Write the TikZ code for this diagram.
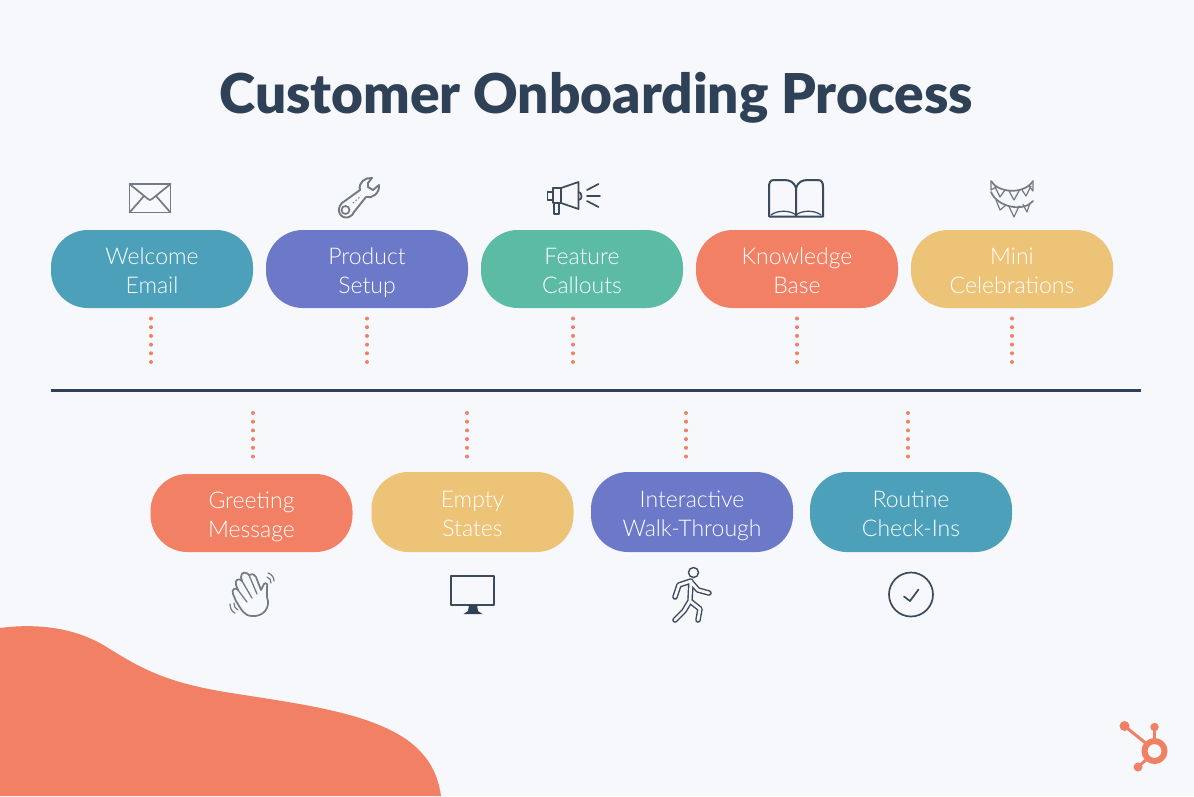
\documentclass[tikz,border=0pt]{standalone}
\usepackage{fontspec}
\setmainfont{Lato}
\newfontfamily\pillfont{Lato Light}
\newfontfamily\titlefont{Lato Black}
\newcommand\pilltext[2]{\rule{0pt}{28.5pt}#1\\\strut#2}
\definecolor{pagebg}{HTML}{F6F8FB}
\definecolor{navy}{HTML}{2F4156}
\definecolor{iconedge}{HTML}{3B4A5C}
\definecolor{icongray}{HTML}{747A83}
\definecolor{coral}{HTML}{F18064}
\definecolor{tealblue}{HTML}{4CA0BA}
\definecolor{violet}{HTML}{6C78C8}
\definecolor{mint}{HTML}{5CBBA5}
\definecolor{honey}{HTML}{ECC377}
\begin{document}
\begin{tikzpicture}[x=1pt, y=-1pt,
    pill/.style={minimum width=202pt, minimum height=78pt, rounded corners=37pt, text=white,
      align=center, font=\pillfont\fontsize{23}{29}\selectfont, inner sep=0pt},
    dots/.style={coral, line width=4pt, line cap=round, dash pattern=on 0pt off 8.7pt},
    icon/.style={iconedge, line width=1.7pt, line join=round, line cap=round},
    grayicon/.style={icongray, line width=1.7pt, line join=round, line cap=round}]
  \useasboundingbox (0,0) rectangle (1194,796);
  \fill[pagebg] (0,0) rectangle (1194,796);
  \fill[coral] (0,628) .. controls (30,624) and (70,625) .. (105,646)
    .. controls (140,668) and (165,682) .. (225,692)
    .. controls (300,704) and (370,712) .. (410,742)
    .. controls (430,758) and (438,775) .. (441,796) -- (0,796) -- cycle;

  \node[font=\titlefont\fontsize{54.9}{60}\selectfont, text=navy] (title) at (596,97.5) {Customer Onboarding Process};

  \node[pill, fill=tealblue] (welcome) at (152,269) {\pilltext{Welcome}{Email}};
  \node[pill, fill=violet] (setup) at (367,269) {\pilltext{Product}{Setup}};
  \node[pill, fill=mint] (callouts) at (582,269) {\pilltext{Feature}{Callouts}};
  \node[pill, fill=coral] (base) at (797,269) {\pilltext{Knowledge}{Base}};
  \node[pill, fill=honey] (mini) at (1012,269) {\pilltext{Mini}{Celebrations}};

  \node[pill, fill=coral] (greeting) at (251.5,513) {\pilltext{Greeting}{Message}};
  \node[pill, fill=honey, minimum height=80pt] (empty) at (472.5,512) {\pilltext{Empty}{States}};
  \node[pill, fill=violet, minimum height=80pt] (walk) at (692,512) {\pilltext{Interactive}{Walk-Through}};
  \node[pill, fill=tealblue, minimum height=80pt] (checkins) at (911,512) {\pilltext{Routine}{Check-Ins}};

  \coordinate (ruleleft) at (51,390);
  \coordinate (ruleright) at (1141,390);
  \draw[navy, line width=3pt] (ruleleft) -- (ruleright);

  \coordinate (welcomedot) at (151,362);
  \coordinate (setupdot) at (367,362);
  \coordinate (calloutsdot) at (573,362);
  \coordinate (basedot) at (797,362);
  \coordinate (minidot) at (1012,362);
  \coordinate (greetingdot) at (253,413);
  \coordinate (emptydot) at (467,413);
  \coordinate (walkdot) at (686,413);
  \coordinate (checkinsdot) at (908,413);
  \draw[dots, shorten >=9pt] (welcomedot) -- (welcome.south -| welcomedot);
  \draw[dots, shorten >=9pt] (setupdot) -- (setup.south -| setupdot);
  \draw[dots, shorten >=9pt] (calloutsdot) -- (callouts.south -| calloutsdot);
  \draw[dots, shorten >=9pt] (basedot) -- (base.south -| basedot);
  \draw[dots, shorten >=9pt] (minidot) -- (mini.south -| minidot);
  \draw[dots, shorten >=16pt] (greetingdot) -- (greeting.north -| greetingdot);
  \draw[dots, shorten >=14pt] (emptydot) -- (empty.north -| emptydot);
  \draw[dots, shorten >=14pt] (walkdot) -- (walk.north -| walkdot);
  \draw[dots, shorten >=14pt] (checkinsdot) -- (checkins.north -| checkinsdot);

  % envelope
  \draw[grayicon] (129.5,184) rectangle (170.5,212.5);
  \draw[grayicon] (129.5,184) -- (148,199) -- (150,200) -- (152,199) -- (170.5,184);
  \draw[grayicon] (129.5,212.5) -- (144,196);
  \draw[grayicon] (170.5,212.5) -- (156,196);

  % wrench
  \draw[icongray, line width=1.9pt, line join=round]
    (372,178) .. controls (365,177) and (358,183) .. (360,190)
    -- (342,203) .. controls (335,210) and (341,220) .. (349,217)
    .. controls (352,216) and (353,214) .. (354,212)
    -- (366,197) .. controls (372,199) and (380,193) .. (379,185)
    -- (373,190) -- (368,187) -- (368,183) -- cycle;
  \draw[icongray, line width=1.7pt] (345.5,210) circle[radius=4];
  \draw[icongray, line width=1pt, dash pattern=on 1.5pt off 2pt] (353,203) -- (361,196);

  % megaphone
  \draw[icon] (561,188) -- (578.5,182) -- (578.5,209) -- (561,203) -- cycle;
  \draw[icon] (561,188) -- (553,188) -- (553,203) -- (561,203);
  \draw[icon] (553,192) -- (547.5,192) -- (547.5,200) -- (553,200);
  \draw[icon] (553.7,203) -- (553.7,214) -- (559,214) -- (559,203.5);
  \draw[icon] (578.5,192) .. controls (582,192) and (583,200) .. (578.5,200);
  \draw[icon] (587,190) -- (598.5,184);
  \draw[icon] (587,196) -- (600,196);
  \draw[icon] (587,201) -- (598.5,207);

  % book
  \draw[icon, line width=2pt] (796,188) .. controls (794,182) and (790,180) .. (784,180) -- (774,180)
    .. controls (770,180) and (769,183) .. (769,187) -- (769,216.5) -- (823,216.5) -- (823,187)
    .. controls (823,183) and (822,180) .. (818,180) -- (808,180)
    .. controls (802,180) and (798,182) .. (796,188) -- (796,216.5);
  \draw[icon, line width=1.2pt] (771,215) .. controls (777,210) and (790,210) .. (796,215)
    .. controls (802,210) and (815,210) .. (821,215);

  % bunting
  \draw[grayicon] (991,181) .. controls (998,193) and (1024,195) .. (1033,181);
  \draw[grayicon] (991,192) .. controls (998,208) and (1024,212) .. (1033,201);
  \draw[grayicon, line width=1.2pt] (991,182) -- (991,190) -- (996,187);
  \draw[grayicon, line width=1.2pt] (995,187) -- (1000,197) -- (1005,190);
  \draw[grayicon, line width=1.2pt] (1009,191) -- (1014,200) -- (1019,191);
  \draw[grayicon, line width=1.2pt] (1022,190) -- (1026,196) -- (1031,186);
  \draw[grayicon, line width=1.2pt] (1029,186) -- (1033,191) -- (1033,182);
  \draw[grayicon, line width=1.2pt] (996,200) -- (1000,210) -- (1006,205);
  \draw[grayicon, line width=1.2pt] (1009,206.5) -- (1014,217) -- (1019,206);
  \draw[grayicon, line width=1.2pt] (1023,204.5) -- (1027,212) -- (1030,203);

  % hand
  \draw[grayicon] (252,616) .. controls (244,616) and (241,609) .. (236,601)
    -- (233,594) .. controls (231,589) and (236,587) .. (238,590)
    -- (236,585) .. controls (234,579) and (240,578) .. (242,581)
    -- (241,577) .. controls (241,571) and (247,572) .. (249,575)
    .. controls (251,573) and (254,574) .. (256,577)
    -- (261,590) -- (264,584) .. controls (266,582) and (268,584) .. (267,587)
    -- (267,597) .. controls (271,608) and (263,617) .. (252,616);
  \draw[grayicon, line width=1.3pt] (238,590) -- (247,602);
  \draw[grayicon, line width=1.3pt] (242,581) -- (252,598);
  \draw[grayicon, line width=1.3pt] (249,575) -- (257,594);
  \draw[grayicon, line width=1.2pt] (267,577) .. controls (270,578) and (271,580) .. (271,583);
  \draw[grayicon, line width=1.2pt] (268,573) .. controls (272,574) and (274,578) .. (274,581);
  \draw[grayicon, line width=1.2pt] (234,603) .. controls (234,606) and (235,609) .. (238,610);
  \draw[grayicon, line width=1.2pt] (230,604) .. controls (230,608) and (232,612) .. (235,613);

  % monitor
  \draw[icon, line width=2pt] (451,575.5) rectangle (494,605);
  \fill[navy] (469,605) -- (477,605) -- (478,611) -- (482.5,614) -- (463.5,614) -- (468,611) -- cycle;

  % walker
  \draw[iconedge, line width=1.4pt] (693.5,572.5) circle[radius=5];
  \draw[iconedge, line width=1.4pt, double=pagebg, double distance=2.8pt, line join=round, line cap=round]
    (675,597) -- (679,585) -- (691,581) -- (690,601) -- (700,609) -- (698,620)
    (690,601) -- (684,611) -- (675,620)
    (691,582) -- (698,590) -- (709,593);

  % check
  \draw[icon] (911,594.5) circle[radius=22];
  \draw[icon] (904,596.5) -- (910,601) -- (918.5,589.5);

  % logo
  \draw[coral, line width=6pt] (1154.5,751) circle[radius=10];
  \draw[coral, line width=3pt] (1124.5,726) -- (1148,745);
  \draw[coral, line width=3pt] (1154.5,727) -- (1154.5,741);
  \draw[coral, line width=3pt] (1138,767) -- (1148,758);
  \fill[coral] (1124.5,726) circle[radius=5];
  \fill[coral] (1154.5,727) circle[radius=4.2];
  \fill[coral] (1138,767) circle[radius=4.5];
\end{tikzpicture}
\end{document}
